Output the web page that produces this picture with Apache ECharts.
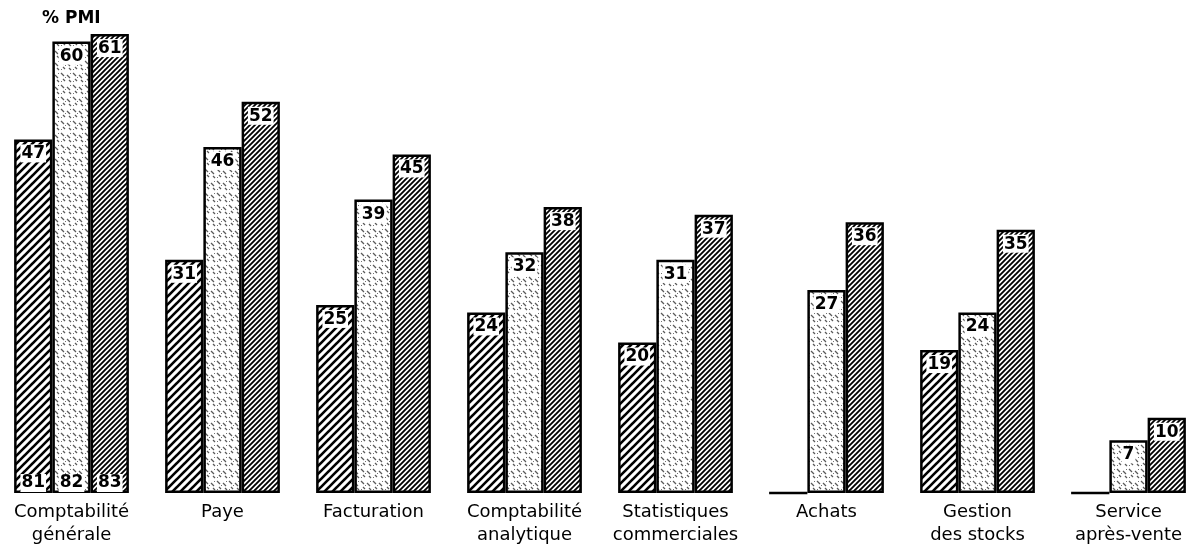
<!DOCTYPE html>
<html>
<head>
<meta charset="utf-8">
<script src="https://cdn.jsdelivr.net/npm/echarts@6/dist/echarts.min.js"></script>
<style>
  html, body { margin: 0; padding: 0; background: #fff; }
  #chart { width: 1190px; height: 549px; }
</style>
</head>
<body>
<div id="chart"></div>
<script>
// Share of small and medium firms (% PMI) using computers, by application and year
const categories = [
  'Comptabilité\ngénérale', 'Paye', 'Facturation', 'Comptabilité\nanalytique',
  'Statistiques\ncommerciales', 'Achats', 'Gestion\ndes stocks', 'Service\naprès-vente'
];
const seriesNames = ['81', '82', '83'];
const values81 = [47, 31, 25, 24, 20, 0, 19, 0];
const values82 = [60, 46, 39, 32, 31, 27, 24, 7];
const values83 = [61, 52, 45, 38, 37, 36, 35, 10];

// Hatched fills drawn on small tiles
function hatch(period, width) {
  const c = document.createElement('canvas');
  c.width = period; c.height = period;
  const g = c.getContext('2d');
  g.fillStyle = '#fff'; g.fillRect(0, 0, period, period);
  g.strokeStyle = '#000'; g.lineWidth = width; g.lineCap = 'square';
  for (const k of [-period, 0, period]) {
    g.beginPath(); g.moveTo(k, period); g.lineTo(k + period, 0); g.stroke();
  }
  return c;
}
function stipple() {
  const s = 12;
  const c = document.createElement('canvas');
  c.width = s; c.height = s;
  const g = c.getContext('2d');
  g.fillStyle = '#fff'; g.fillRect(0, 0, s, s);
  g.strokeStyle = 'rgba(0,0,0,0.65)'; g.lineWidth = 1.2;
  const dashes = [[1, 1, 3], [7, 3, 3], [3, 7, 2], [9, 8, 2]];
  for (const [x, y, l] of dashes) {
    g.beginPath(); g.moveTo(x, y); g.lineTo(x + l, y + l); g.stroke();
  }
  g.fillStyle = 'rgba(0,0,0,0.55)';
  g.fillRect(10, 1, 1, 1); g.fillRect(1, 9, 1, 1); g.fillRect(5, 5, 1, 1);
  return c;
}
const fills = [
  { image: hatch(8, 2.6), repeat: 'repeat' },
  { image: stipple(), repeat: 'repeat' },
  { image: hatch(5, 1.8), repeat: 'repeat' }
];

const font = 'DejaVu Sans';
function toData(arr) {
  return arr.map(v => v === 0 ? { value: 0, label: { show: false } } : v);
}
function makeSeries(name, arr, idx) {
  return {
    type: 'bar',
    name: name,
    data: toData(arr),
    barGap: '0%',
    barCategoryGap: '24%',
    itemStyle: { color: fills[idx], borderColor: '#000', borderWidth: 2.5 },
    label: {
      show: true,
      position: 'insideTop',
      distance: 5,
      color: '#000',
      fontFamily: font,
      fontSize: 17,
      fontWeight: 'bold',
      backgroundColor: '#fff',
      padding: [1, 1, 0, 1]
    },
    markPoint: {
      symbol: 'rect',
      symbolSize: 1,
      itemStyle: { color: 'rgba(0,0,0,0)' },
      label: {
        show: true,
        position: 'inside',
        offset: [0, -10],
        color: '#000',
        fontFamily: font,
        fontSize: 17,
        fontWeight: 'bold',
        backgroundColor: '#fff',
        padding: [1, 1, 0, 1],
        formatter: () => name
      },
      data: [{ coord: [0, 0] }]
    },
    emphasis: { disabled: true }
  };
}

const chart = echarts.init(document.getElementById('chart'), null, { renderer: 'canvas' });
chart.setOption({
  animation: false,
  backgroundColor: '#fff',
  title: {
    text: '% PMI',
    left: 42, top: 10, padding: 0,
    textStyle: { fontFamily: font, fontSize: 17, fontWeight: 'bold', color: '#000' }
  },
  grid: { left: -4, width: 1208, top: 4, bottom: 56, outerBoundsMode: 'none', containLabel: false },
  xAxis: {
    type: 'category',
    data: categories,
    axisLine: { show: false },
    axisTick: { show: false },
    axisLabel: {
      color: '#000', fontFamily: font, fontSize: 18,
      lineHeight: 23, margin: 8, interval: 0
    }
  },
  yAxis: { type: 'value', min: 0, max: 65, show: false },
  series: [
    makeSeries(seriesNames[0], values81, 0),
    makeSeries(seriesNames[1], values82, 1),
    makeSeries(seriesNames[2], values83, 2)
  ]
});
</script>
</body>
</html>
